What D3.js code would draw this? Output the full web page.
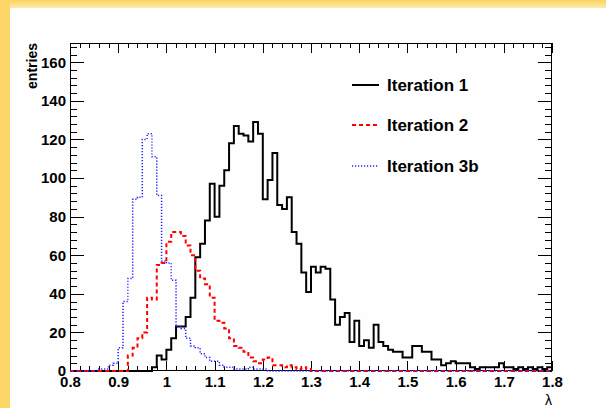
<!DOCTYPE html>
<html>
<head>
<meta charset="utf-8">
<script src="https://cdn.jsdelivr.net/npm/d3@7"></script>
<style>
  body { margin: 0; background: #fff; }
  svg { display: block; }
  text { font-family: "Liberation Sans", Arial, Helvetica, sans-serif; }
</style>
</head>
<body>
<script>
// histogram binning: 100 bins of 0.01 from 0.8 to 1.8
const binLow = 0.8;
const binWidth = 0.01;

// entries per bin
const iteration1 = [
  0, 0, 0, 0, 0, 0, 0, 0, 0, 0,
  0, 0, 0, 0, 0, 0, 0, 2, 8, 6,
  11, 17, 23, 23, 28, 38, 59, 66, 78, 97,
  80, 96, 104, 118, 127, 123, 122, 119, 129, 123,
  89, 99, 113, 86, 84, 90, 72, 66, 51, 41,
  54, 51, 54, 53, 37, 24, 28, 30, 15, 26,
  13, 16, 12, 24, 15, 13, 11, 10, 10, 7,
  7, 13, 13, 10, 10, 6, 6, 3, 4, 5,
  4, 4, 4, 2, 1, 2, 2, 2, 2, 4,
  2, 2, 1, 2, 1, 2, 1, 2, 1, 2
];
const iteration2 = [
  0, 0, 0, 0, 0, 0, 0, 0, 0, 0,
  0, 0, 8, 12, 17, 20, 38, 37, 55, 56,
  67, 72, 72, 70, 65, 60, 52, 48, 45, 38,
  26, 25, 22, 17, 13, 12, 10, 7, 5, 4,
  6, 7, 3, 3, 2, 3, 2, 1, 2, 1,
  0, 0, 0, 0, 0, 0, 0, 0, 0, 0,
  0, 0, 0, 0, 0, 0, 0, 0, 0, 0,
  0, 0, 0, 0, 0, 0, 0, 0, 0, 0,
  0, 0, 0, 0, 0, 0, 0, 0, 0, 0,
  0, 0, 0, 0, 0, 0, 0, 0, 0, 0
];
const iteration3b = [
  0, 0, 0, 0, 0, 0, 1, 1, 3, 4,
  12, 36, 48, 89, 90, 120, 123, 111, 91, 57,
  56, 47, 23, 22, 17, 13, 12, 9, 7, 5,
  5, 3, 2, 2, 1, 1, 1, 2, 1, 1,
  1, 0, 0, 0, 0, 0, 0, 0, 0, 0,
  0, 0, 0, 0, 0, 0, 0, 0, 0, 0,
  0, 0, 0, 0, 0, 0, 0, 0, 0, 0,
  0, 0, 0, 0, 0, 0, 0, 0, 0, 0,
  0, 0, 0, 0, 0, 0, 0, 0, 0, 0,
  0, 0, 0, 0, 0, 0, 0, 0, 0, 0
];

const xTicks = [0.8, 0.9, 1.0, 1.1, 1.2, 1.3, 1.4, 1.5, 1.6, 1.7, 1.8];
const xTickLabels = ["0.8", "0.9", "1", "1.1", "1.2", "1.3", "1.4", "1.5", "1.6", "1.7", "1.8"];
const yTicks = [0, 20, 40, 60, 80, 100, 120, 140, 160];
const legendLabels = ["Iteration 1", "Iteration 2", "Iteration 3b"];

const svgWidth = 606;
const svgHeight = 408;
const plot = { left: 70, right: 552, top: 43, bottom: 371 };

const svg = d3.select("body")
  .append("svg")
  .attr("width", svgWidth)
  .attr("height", svgHeight);

// slide background: yellow strips on the left and top
const grad = svg.append("defs").append("linearGradient")
  .attr("id", "topGrad")
  .attr("x1", 0).attr("y1", 0).attr("x2", 0).attr("y2", 1);
grad.append("stop").attr("offset", "0%").attr("stop-color", "#fbd25a");
grad.append("stop").attr("offset", "100%").attr("stop-color", "#fdebb0");

svg.append("rect").attr("width", svgWidth).attr("height", svgHeight).attr("fill", "#fefefe");
svg.append("rect").attr("x", 0).attr("y", 0).attr("width", svgWidth).attr("height", 8).attr("fill", "url(#topGrad)");
svg.append("rect").attr("x", 0).attr("y", 0).attr("width", 10).attr("height", svgHeight).attr("fill", "#fcd768");

const x = d3.scaleLinear().domain([0.8, 1.8]).range([plot.left, plot.right]);
const y = d3.scaleLinear().domain([0, 170]).range([plot.bottom, plot.top]);

const xMinor = d3.range(0, 51).map(i => 0.8 + i * 0.02);
const yMinor = d3.range(0, 43).map(i => i * 4);

function tickAxis(axis, pos, values, size, labels) {
  const g = svg.append("g")
    .attr("transform", pos)
    .call(axis.tickValues(values).tickSize(size).tickPadding(labels ? 5 : 0)
      .tickFormat(labels ? (d, i) => labels[i] : ""));
  g.select(".domain").remove();
  g.selectAll("line").attr("stroke", "#000").attr("shape-rendering", "crispEdges");
  g.selectAll("text")
    .attr("fill", "#000")
    .style("font-size", "15px")
    .style("font-weight", "bold");
  return g;
}

// x axis, ticks on bottom and top
tickAxis(d3.axisBottom(x), `translate(0,${plot.bottom})`, xMinor, -5, null);
tickAxis(d3.axisBottom(x), `translate(0,${plot.bottom})`, xTicks, -10, xTickLabels);
tickAxis(d3.axisTop(x), `translate(0,${plot.top})`, xMinor, -5, null);
tickAxis(d3.axisTop(x), `translate(0,${plot.top})`, xTicks, -10, null);

// y axis, ticks on left and right
tickAxis(d3.axisLeft(y), `translate(${plot.left},0)`, yMinor, -7, null);
tickAxis(d3.axisLeft(y), `translate(${plot.left},0)`, yTicks, -14, yTicks.map(String))
  .selectAll("text").attr("x", -4);
tickAxis(d3.axisRight(y), `translate(${plot.right},0)`, yMinor, -7, null);
tickAxis(d3.axisRight(y), `translate(${plot.right},0)`, yTicks, -14, null);

// frame
svg.append("rect")
  .attr("x", plot.left + 0.5).attr("y", plot.top + 0.5)
  .attr("width", plot.right - plot.left - 1).attr("height", plot.bottom - plot.top - 1)
  .attr("fill", "none").attr("stroke", "#000").attr("stroke-width", 1);

// histogram outlines
const step = d3.line()
  .x(d => x(d[0]))
  .y(d => y(d[1]))
  .curve(d3.curveStepAfter);

function histPoints(values) {
  const pts = values.map((v, i) => [binLow + i * binWidth, v]);
  pts.push([binLow + values.length * binWidth, values[values.length - 1]]);
  return pts;
}

const series = [
  { values: iteration1, color: "#000000", width: 2, dash: null },
  { values: iteration2, color: "#ff0000", width: 2, dash: "4,3" },
  { values: iteration3b, color: "#2020ff", width: 1.5, dash: "1.2,1.8" }
];

series.forEach(s => {
  svg.append("path")
    .datum(histPoints(s.values))
    .attr("d", step)
    .attr("fill", "none")
    .attr("stroke", s.color)
    .attr("stroke-width", s.width)
    .attr("stroke-dasharray", s.dash);
});

// legend
const legend = svg.append("g");
const legendY = [85, 125, 166];
series.forEach((s, i) => {
  legend.append("line")
    .attr("x1", 352).attr("x2", 379)
    .attr("y1", legendY[i]).attr("y2", legendY[i])
    .attr("stroke", s.color)
    .attr("stroke-width", s.width)
    .attr("stroke-dasharray", s.dash);
  legend.append("text")
    .attr("x", 387)
    .attr("y", legendY[i] + 6)
    .style("font-size", "17px")
    .style("font-weight", "bold")
    .text(legendLabels[i]);
});

// axis titles
svg.append("text")
  .attr("transform", `translate(37,${plot.top}) rotate(-90)`)
  .attr("text-anchor", "end")
  .style("font-size", "14px")
  .style("font-weight", "bold")
  .text("entries");

svg.append("text")
  .attr("x", plot.right)
  .attr("y", 405)
  .attr("text-anchor", "end")
  .style("font-size", "14px")
  .text("λ");
</script>
</body>
</html>
